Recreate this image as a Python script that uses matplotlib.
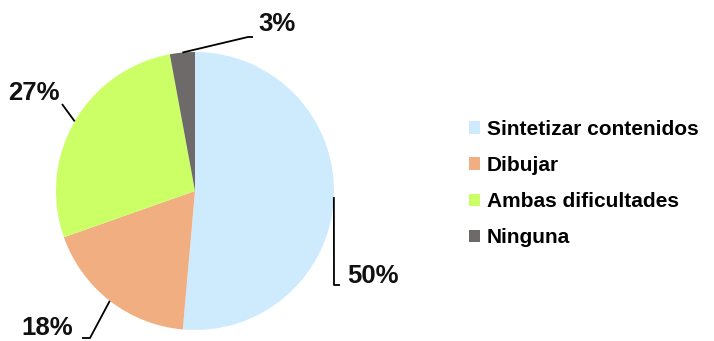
import numpy as np
import matplotlib
matplotlib.use('Agg')
from matplotlib import pyplot as plt

labels = ['Sintetizar contenidos', 'Dibujar', 'Ambas dificultades', 'Ninguna']
values = [51.4, 18.2, 27.5, 2.9]   # slice sizes
pct_text = ['50%', '18%', '27%', '3%']  # labels as printed
colors = ['#CDEBFD', '#F1AE80', '#CCFF66', '#6E6A6A']

W, H = 714, 341
plt.rcParams['font.family'] = ['Liberation Sans', 'DejaVu Sans']

fig = plt.figure(figsize=(W / 100, H / 100), dpi=100)
ax = fig.add_axes([0, 0, 1, 1])

cx, cy, r = 195, H - 191, 139
wedges, _ = ax.pie(values, colors=colors, startangle=90, counterclock=False,
                   center=(cx, cy), radius=r, frame=True)
ax.set_xlim(0, W)
ax.set_ylim(0, H)
ax.set_aspect('equal')
ax.axis('off')

# leader lines: elbow points (pixel layout), label position, alignment
leaders = [
    ([(334, 285), (340, 285)], (347, 276), 'left'),
    ([(90, 338), (82, 338)], (73, 328), 'right'),
    ([(62, 104)], (60, 93), 'right'),
    ([(248, 37), (253, 37)], (258, 24), 'left'),
]
for w, txt, (pts, lab, ha) in zip(wedges, pct_text, leaders):
    mid = np.deg2rad((w.theta1 + w.theta2) / 2)
    x0 = cx + r * np.cos(mid)
    y0 = cy + r * np.sin(mid)
    xs = [x0] + [p[0] for p in pts]
    ys = [y0] + [H - p[1] for p in pts]
    ax.plot(xs, ys, color='black', lw=1.3, solid_capstyle='butt')
    ax.text(lab[0], H - lab[1], txt, ha=ha, va='center', fontsize=18.5,
            fontweight='bold', color='#111111')

fig.legend(wedges, labels, loc='upper left', bbox_to_anchor=(469 / W, 1 - 120 / H),
           frameon=False, prop={'weight': 'bold', 'size': 15},
           handlelength=0.55, handleheight=0.55, handletextpad=0.3,
           labelspacing=0.82, borderaxespad=0, borderpad=0)

fig.savefig('out.png', dpi=100)
